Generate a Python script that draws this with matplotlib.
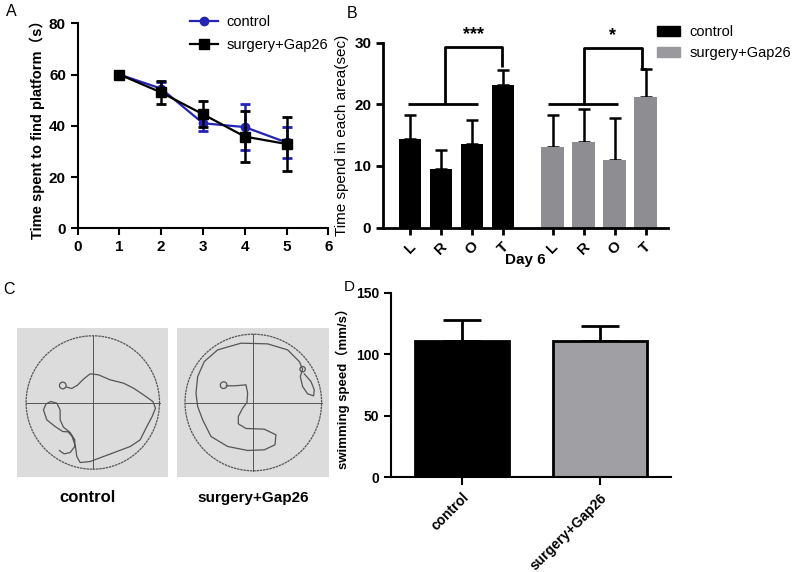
import numpy as np
import matplotlib
matplotlib.use('Agg')
import matplotlib.pyplot as plt
from matplotlib.patches import Circle, Rectangle
from matplotlib.lines import Line2D

plt.rcParams['font.family'] = ['Liberation Sans', 'Noto Sans CJK SC']

# ---------------- data ----------------
# Panel A: escape latency
days = [1, 2, 3, 4, 5]
ctrl_time = [60, 54.5, 41, 39.5, 33.5]
ctrl_time_err = [0, 2.5, 3, 9, 6]
gap_time = [60, 53, 44.5, 35.8, 32.9]
gap_time_err = [0, 4.3, 5, 9.8, 10.4]

# Panel B: time in each area on day 6
areas = ['L', 'R', 'O', 'T']
ctrl_area = [14.3, 9.5, 13.6, 23.1]
ctrl_area_err = [3.9, 3.1, 3.8, 2.5]
gap_area = [13.1, 13.8, 10.9, 21.2]
gap_area_err = [5.2, 5.4, 6.9, 4.6]

# Panel D: swimming speed
groups = ['control', 'surgery+Gap26']
speed = [111, 110.5]
speed_err = [17, 12.5]

# Panel C: traced swim paths (trace units; circle centre / radius given below)
ctrl_path_x = [200, 215, 232, 250, 270, 295, 330, 370, 400, 430, 458, 466, 456, 440,
               420, 390, 350, 310, 270, 240, 230, 226, 216, 204, 188, 165, 140, 130,
               138, 152, 170, 180, 180, 190, 210, 224, 224, 210, 192, 178]
ctrl_path_y = [322, 326, 316, 298, 282, 285, 300, 310, 325, 345, 365, 385, 410, 440,
               480, 500, 515, 530, 545, 548, 530, 500, 470, 456, 455, 440, 420, 390,
               372, 365, 370, 390, 420, 442, 458, 480, 500, 518, 522, 512]
ctrl_loop = (188, 317, 10)
ctrl_centre = (278, 368, 200)

gap_path_x = [676, 700, 735, 740, 738, 725, 712, 712, 735, 790, 825, 822, 790, 740,
              680, 630, 605, 590, 585, 590, 610, 650, 720, 800, 860, 895, 905, 898,
              905, 920, 938, 940, 930, 910]
gap_path_y = [318, 318, 315, 340, 368, 385, 410, 432, 446, 448, 465, 495, 510, 512,
              500, 470, 420, 380, 340, 290, 245, 210, 190, 192, 210, 245, 268, 290,
              320, 342, 348, 330, 305, 282]
gap_loop = (668, 316, 10)
gap_loop2 = (905, 268, 8)
gap_centre = (757, 368, 205)

W, H = 800, 572
fig = plt.figure(figsize=(W / 100, H / 100), dpi=100)


def rect(x0, y0, x1, y1):
    return [x0 / W, 1 - y1 / H, (x1 - x0) / W, (y1 - y0) / H]


def style(ax, lw=1.5, size=11):
    for s in ['top', 'right']:
        ax.spines[s].set_visible(False)
    for s in ['left', 'bottom']:
        ax.spines[s].set_linewidth(lw)
    ax.tick_params(width=lw, length=5, labelsize=size)
    for lab in ax.get_xticklabels() + ax.get_yticklabels():
        lab.set_fontweight('bold')


# ---------------- Panel A ----------------
axA = fig.add_axes(rect(77.7, 23.3, 328.3, 228.3))
blue = '#2323b4'
axA.errorbar(days, ctrl_time, yerr=ctrl_time_err, color=blue, marker='o', ms=6,
             lw=1.6, capsize=3.6, capthick=2, elinewidth=1.8, label='control', zorder=3)
axA.errorbar(days, gap_time, yerr=gap_time_err, color='black', marker='s', ms=7,
             lw=1.6, capsize=3.6, capthick=2, elinewidth=1.8, label='surgery+Gap26', zorder=4)
axA.set_xlim(0, 6)
axA.set_ylim(0, 80)
axA.set_xticks(range(0, 7))
axA.set_yticks(range(0, 81, 20))
axA.set_ylabel('Time spent to find platform（s）', fontsize=10.5, fontweight='bold', labelpad=3)
style(axA)
hA = [Line2D([], [], color=blue, marker='o', ms=6, lw=1.6),
      Line2D([], [], color='black', marker='s', ms=7, lw=1.6)]
fig.legend(hA, ['control', 'surgery+Gap26'], loc='upper left',
           bbox_to_anchor=(190 / W, 1 - 15 / H), frameon=False, fontsize=10.5,
           borderpad=0, borderaxespad=0, handlelength=1.9, handletextpad=0.6,
           labelspacing=0.65)
fig.text(11 / W, 1 - 12 / H, 'A', fontsize=11.5, va='center', ha='center')

# ---------------- Panel B ----------------
axB = fig.add_axes(rect(383, 42.7, 668, 227.5))
grey = '#8d8d92'
xc = np.arange(len(areas))
xg = xc + 4.6
bw = 0.74
axB.bar(xc, ctrl_area, width=bw, color='black', zorder=2)
axB.bar(xg, gap_area, width=bw, color=grey, zorder=2)
axB.errorbar(xc, ctrl_area, yerr=[np.zeros(4), ctrl_area_err], fmt='none', ecolor='black',
             elinewidth=1.8, capsize=4, capthick=1.8, zorder=1)
axB.errorbar(xg, gap_area, yerr=[np.zeros(4), gap_area_err], fmt='none', ecolor='black',
             elinewidth=1.8, capsize=4, capthick=1.8, zorder=1)
axB.set_xlim(-0.87, 8.32)
axB.set_ylim(0, 30)
axB.set_yticks([0, 10, 20, 30])
axB.set_xticks(np.concatenate([xc, xg]))
axB.set_xticklabels(areas + areas, rotation=45, ha='center')
axB.set_xlabel('Day 6', fontsize=11, fontweight='bold', labelpad=-3)
axB.set_ylabel('Time spend in each area(sec)', fontsize=11, labelpad=4)
style(axB, lw=2)
# significance brackets
kw = dict(color='black', lw=2, clip_on=False, solid_capstyle='butt')
axB.plot([-0.06, 2.19], [20, 20], **kw)
axB.plot([1.13, 1.13, 2.97, 2.97], [20, 29.3, 29.3, ctrl_area[3] + ctrl_area_err[3] + 0.4], **kw)
axB.text(2.05, 30.0, '***', ha='center', va='bottom', fontsize=13, fontweight='bold')
axB.plot([4.45, 6.71], [20, 20], **kw)
top_g = gap_area[3] + gap_area_err[3]
axB.plot([5.61, 5.61, 7.47, 7.47, 7.6], [20, 29.1, 29.1, top_g, top_g], **kw)
axB.text(6.54, 29.8, '*', ha='center', va='bottom', fontsize=13, fontweight='bold')
hB = [Rectangle((0, 0), 1, 1, color='black'), Rectangle((0, 0), 1, 1, color='#9a9a9e')]
fig.legend(hB, ['control', 'surgery+Gap26'], loc='upper left',
           bbox_to_anchor=(657 / W, 1 - 25 / H), frameon=False, fontsize=10.5,
           borderpad=0, borderaxespad=0, handlelength=1.6, handleheight=0.7,
           handletextpad=0.6, labelspacing=0.5)
fig.text(352 / W, 1 - 13 / H, 'B', fontsize=11.5, va='center', ha='center')

# ---------------- Panel C ----------------
def maze(box, path_x, path_y, centre, loops, rad_px):
    ax = fig.add_axes(rect(*box))
    cx, cy, r = centre
    wpx = box[2] - box[0]
    hpx = box[3] - box[1]
    hx = wpx / 2 / rad_px
    hy = hpx / 2 / rad_px
    ax.set_xlim(-hx, hx)
    ax.set_ylim(-hy, hy)
    ax.set_axis_off()
    ax.add_patch(Rectangle((-hx, -hy), 2 * hx, 2 * hy, color='#dcdcdc', zorder=0))
    lc = '#555555'
    ax.add_patch(Circle((0, 0), 1, fill=False, ec=lc, lw=0.9, ls=(0, (2, 0.6))))
    ax.plot([-1, 1], [0, 0], color=lc, lw=0.7)
    ax.plot([0, 0], [-1, 1], color=lc, lw=0.7)
    px = (np.array(path_x) - cx) / r
    py = (cy - np.array(path_y)) / r
    ax.plot(px, py, color=lc, lw=0.9)
    for (lx, ly, lr) in loops:
        ax.add_patch(Circle(((lx - cx) / r, (cy - ly) / r), lr / r, fill=False, ec=lc, lw=0.9))
    return ax


maze((17.3, 327.7, 168.3, 477.3), ctrl_path_x, ctrl_path_y, ctrl_centre, [ctrl_loop], 66.7)
maze((177.3, 327.7, 329.3, 477.3), gap_path_x, gap_path_y, gap_centre, [gap_loop, gap_loop2], 68.3)
fig.text(88 / W, 1 - 498 / H, 'control', fontsize=12, fontweight='bold', ha='center', va='center')
fig.text(253 / W, 1 - 498 / H, 'surgery+Gap26', fontsize=11, fontweight='bold', ha='center', va='center')
fig.text(9 / W, 1 - 290 / H, 'C', fontsize=11.5, va='center', ha='center')

# ---------------- Panel D ----------------
axD = fig.add_axes(rect(391, 292.7, 670.7, 477.3))
xd = np.arange(len(groups))
axD.bar(xd, speed, width=0.68, color=['black', '#a0a0a4'], edgecolor='black', lw=2, zorder=2)
axD.errorbar(xd, speed, yerr=[np.zeros(2), speed_err], fmt='none', ecolor='black',
             elinewidth=2, capsize=14, capthick=2, zorder=1)
axD.set_xlim(-0.514, 1.512)
axD.set_ylim(0, 150)
axD.set_yticks([0, 50, 100, 150])
axD.set_xticks(xd)
axD.set_xticklabels(groups, rotation=45, ha='right', rotation_mode='anchor')
axD.set_ylabel('swimming speed（mm/s）', fontsize=9.5, fontweight='bold', labelpad=4)
style(axD, size=10)
axD.tick_params(axis='x', length=6)
fig.text(349 / W, 1 - 287 / H, 'D', fontsize=11, va='center', ha='center')

fig.savefig('out.png', dpi=100)
